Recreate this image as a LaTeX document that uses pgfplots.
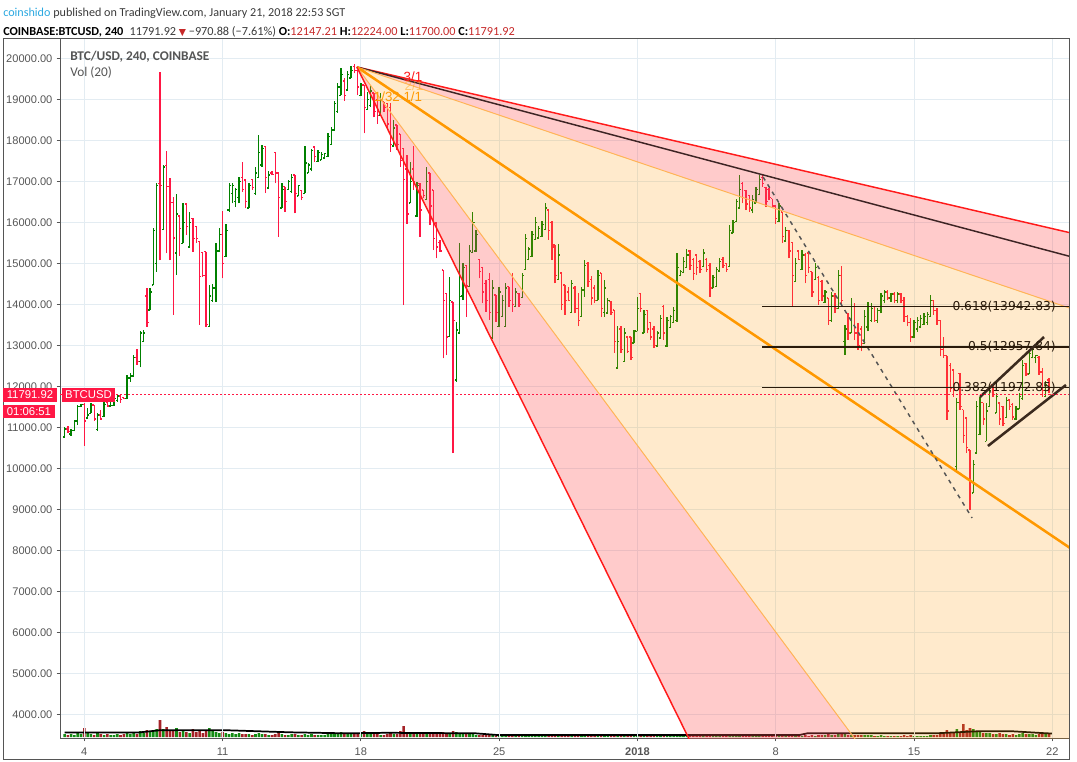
\documentclass[border=0pt]{standalone}
\usepackage{fontspec}
\setmainfont{Liberation Sans}
\newfontfamily\carlito{Carlito}
\newfontfamily\dejavu{DejaVu Sans}
\usepackage{pgfplots}
\pgfplotsset{compat=1.18}
\usepackage{pgfplotstable}

\definecolor{upc}{RGB}{0,128,0}
\definecolor{dnc}{RGB}{255,23,68}
\definecolor{volg}{RGB}{20,140,20}
\definecolor{volr}{RGB}{165,35,40}
\definecolor{gridc}{HTML}{E3ECF2}
\definecolor{axc}{HTML}{555555}
\definecolor{fanred}{HTML}{FF1A1A}
\definecolor{fanor}{HTML}{FF9800}
\definecolor{fanorl}{HTML}{FFB457}
\definecolor{pinkf}{HTML}{FF5252}
\definecolor{fibc}{HTML}{2A1A0A}
\definecolor{chanc}{HTML}{3B2A1E}
\definecolor{trendc}{HTML}{3D2424}
\definecolor{hdrblue}{HTML}{2BA8E0}
\definecolor{valred}{HTML}{C62828}
\definecolor{hdrtext}{HTML}{3A3A3A}

% 4h bars: t = bar number, o h l c, v = volume (pixels)
\pgfplotstableread{
t o h l c v
0 10760 11000 10750 10960 3
1 10960 11030 10870 10900 2
2 10840 10950 10800 10920 3
3 10920 11180 10900 11150 2
4 11150 11550 11060 11500 4
5 11500 11580 11490 11560 3
6 11560 11590 10550 11150 9
7 11230 11460 11220 11300 5
8 11340 11585 11340 11540 3
9 11540 11545 11160 11200 2
10 10950 11340 10920 11300 4
11 11300 11420 11180 11200 3
12 11260 11625 11260 11550 2
13 11600 11640 11500 11520 3
14 11520 11670 11500 11530 2
15 11530 11760 11520 11700 2
16 11650 11790 11620 11760 3
17 11760 11790 11600 11680 2
18 11720 11750 11680 11700 3
19 11700 12280 11680 12200 4
20 12200 12320 12110 12250 3
21 12250 12760 12240 12700 5
22 12700 12900 12520 12600 3
23 12600 13350 12460 13300 6
24 13100 13370 13090 13300 4
25 14200 14390 13450 13550 7
26 13860 14390 13860 14300 5
27 14470 15850 14470 15800 6
28 15000 16970 14800 16900 8
29 16950 19660 15070 16900 17
30 15830 17400 15810 17350 8
31 17380 17740 15245 16880 10
32 16880 17070 15080 16480 7
33 16480 16620 13740 15620 6
34 15250 16690 14715 16200 9
35 16150 16180 15180 15850 5
36 15490 16480 15490 16000 6
37 16450 16460 15690 15900 5
38 15400 16260 15390 16000 4
39 16100 16100 15280 15600 8
40 15900 15920 15490 15600 5
41 15530 15530 13500 14680 6
42 15270 15270 14660 14700 4
43 15280 15280 13450 13500 7
44 13460 14470 13450 14200 9
45 14100 14490 14065 14400 7
46 14400 15500 14065 15300 5
47 15300 15850 15280 15700 4
48 15700 16280 14630 15000 5
49 15160 15950 15160 15800 4
50 16300 16950 16260 16900 3
51 16700 16950 16460 16900 4
52 16500 16830 16380 16800 3
53 16600 17110 16460 17000 4
54 17100 17480 16750 16800 3
55 17030 17030 16340 16500 3
56 16350 16950 16340 16900 3
57 17050 17050 16790 16850 2
58 16700 17360 16670 17200 3
59 17100 18130 17070 17700 4
60 17400 17890 17360 17800 3
61 17850 17860 16710 17100 3
62 16840 17240 16830 17150 2
63 17200 17240 17150 17160 2
64 17700 17720 16950 17200 3
65 17200 17210 15650 16600 4
66 16350 16950 16340 16800 3
67 16870 16870 16260 16500 2
68 16800 17030 16790 17000 2
69 16750 17180 16710 17100 3
70 17150 17150 16220 16700 3
71 16640 16910 16630 16900 2
72 16780 16790 16540 16600 2
73 16710 17860 16710 17450 3
74 17200 17440 17200 17400 2
75 17300 17800 17240 17750 3
76 17840 17840 17480 17600 2
77 17480 17760 17480 17700 2
78 17520 17720 17520 17650 2
79 17570 17700 17560 17680 2
80 17600 18170 17600 18100 3
81 17900 18320 17890 18250 3
82 18250 18970 18250 18900 4
83 18700 19400 18670 19300 4
84 19100 19760 19100 19600 5
85 19450 19510 18970 19100 4
86 19230 19700 19230 19600 3
87 19520 19810 19510 19700 3
88 19800 19860 19630 19700 3
89 19700 19700 19100 19300 4
90 19100 19390 19080 19350 3
91 19350 19350 18170 18800 6
92 18750 19190 18740 19000 4
93 18850 19350 18820 19200 3
94 19150 19150 18560 18700 3
95 18980 18980 18400 18600 3
96 18620 19150 18620 19000 2
97 18940 18940 18700 18800 2
98 18900 18900 18290 18400 3
99 18800 18900 17720 17900 4
100 17860 18500 17850 18300 3
101 18370 18370 17760 17900 3
102 18150 18150 17360 17500 6
103 17800 17800 13980 17050 11
104 17300 17640 15970 16200 5
105 16470 17480 16460 17000 4
106 17300 17850 16800 17000 3
107 16150 16990 16140 16900 3
108 16950 16950 15650 16300 4
109 16790 16790 16600 16650 3
110 16550 17360 16540 17000 3
111 17200 17200 15940 16400 3
112 16790 16790 15320 15600 4
113 15980 15980 15120 15400 3
114 15500 15570 15280 15300 3
115 14840 14840 12680 14100 5
116 14270 14270 12760 13200 4
117 13220 14670 13210 14100 3
118 14060 14065 10370 13600 6
119 12150 13580 12110 13370 5
120 13300 15490 13290 14190 4
121 14200 15000 14100 14900 3
122 14950 14960 13700 14450 3
123 14440 15450 14430 15300 3
124 15260 16240 15250 16000 3
125 15300 15810 15280 15700 2
126 15100 15100 14630 14800 2
127 14900 14920 14020 14300 2
128 14500 14600 13820 14100 2
129 14600 14760 13620 13800 2
130 13180 14600 13170 14400 2
131 14230 14230 13580 13800 1
132 13460 14430 13450 14300 1
133 13710 14230 13700 14100 1
134 13460 14510 13450 14400 1
135 14430 14430 13940 14100 1
136 14700 14760 13820 14000 1
137 13950 14390 13940 14300 1
138 14270 14270 13940 14000 1
139 14160 14760 14150 14700 1
140 14850 15710 14840 15600 2
141 15100 15400 15080 15350 1
142 15170 15790 15160 15700 1
143 15580 16140 15570 16000 2
144 15620 15900 15610 15850 1
145 15660 16020 15650 15950 1
146 15820 16460 15810 16350 2
147 16300 16300 15570 15800 1
148 16000 16020 15080 15400 2
149 15450 15450 14510 14700 2
150 14600 15470 14590 15200 1
151 14760 14760 13860 14000 2
152 14470 14470 13740 14100 1
153 14300 14430 14070 14100 1
154 13800 14600 13790 14500 1
155 14400 14450 13780 13900 1
156 13900 14270 13460 13600 1
157 13700 14430 13700 14350 1
158 14350 15080 14190 14950 1
159 15000 15040 14430 14550 1
160 14600 14680 13985 14150 1
161 14400 14470 14030 14100 1
162 14100 14840 14100 14700 1
163 14760 14760 13700 13900 1
164 13800 14590 13700 14400 1
165 13790 14150 13780 14100 1
166 14070 14070 13740 13800 1
167 13860 13860 12810 13100 2
168 12450 13460 12440 13100 2
169 13400 13460 12810 12900 1
170 12610 13420 12600 13300 1
171 13200 13210 12810 12850 1
172 13200 13210 12640 12700 1
173 13060 13380 13050 13350 1
174 13340 14190 13340 13900 2
175 14270 14270 13820 13900 1
176 13300 13860 13290 13750 1
177 13850 13860 13290 13400 1
178 13550 13580 13130 13200 1
179 13400 13460 12930 13000 1
180 12980 13340 12970 13300 1
181 13180 13740 13170 13650 1
182 13950 13990 13130 13300 1
183 12980 13700 12970 13600 1
184 13430 13740 13420 13700 1
185 13550 13940 13540 13850 1
186 13600 15240 13580 14900 2
187 14700 14840 14680 14800 1
188 14770 15160 14760 15050 1
189 14890 15360 14880 15200 1
190 15300 15320 14840 14950 1
191 15100 15120 14590 14750 1
192 15200 15200 14720 14900 1
193 15050 15080 14760 14850 1
194 14930 15360 14920 15250 1
195 15100 15120 14800 14850 1
196 14950 15000 14190 14400 1
197 14400 14720 14390 14650 1
198 14440 14920 14430 14850 1
199 14810 15120 14800 15050 1
200 15100 15160 14880 14950 1
201 15000 15000 14800 14850 1
202 14930 15930 14920 15800 2
203 15740 16050 15730 16000 1
204 16020 16580 16010 16500 2
205 16350 17150 16340 16800 2
206 16950 16990 16460 16600 1
207 16780 16790 16300 16450 1
208 16650 16660 16260 16350 1
209 16300 16660 16220 16550 1
210 16470 16870 16460 16800 1
211 16670 17150 16660 17050 1
212 17100 17150 16870 16950 1
213 16850 16870 16380 16500 1
214 16800 16830 16540 16600 1
215 16580 16580 16340 16400 1
216 16400 16420 15970 16100 1
217 16020 16460 16010 16400 1
218 16250 16260 15490 15650 2
219 15540 15890 15530 15800 1
220 15800 15810 15120 15300 2
221 15500 15530 13940 14700 3
222 14560 15120 14550 15000 2
223 15300 15320 15080 15100 1
224 14850 15320 14840 15200 1
225 15200 15240 14510 14700 2
226 15250 15280 14760 14900 1
227 14800 14800 14190 14300 2
228 14600 15000 14590 14900 1
229 14650 14680 13990 14100 2
230 14550 14590 14070 14200 2
231 14040 14350 14030 14300 2
232 14150 14150 13500 13600 3
233 13600 14310 13580 14200 2
234 14200 14270 13780 13900 2
235 13900 14840 13880 14700 3
236 14700 14930 13940 14100 3
237 13100 13500 12770 13400 3
238 13780 13780 13130 13300 2
239 13300 14150 13290 13950 2
240 13950 14030 13130 13300 2
241 13300 13540 12890 13000 2
242 13400 13460 12850 13050 2
243 13050 13860 13040 13700 2
244 13450 14060 13340 13950 2
245 13600 14020 13580 13900 2
246 13940 13940 13580 13600 1
247 13600 13900 13540 13850 1
248 13850 14270 13780 14200 2
249 14100 14350 14020 14300 1
250 14300 14350 14100 14150 1
251 14150 14270 14060 14250 1
252 14250 14310 14020 14100 1
253 14100 14310 14020 14250 1
254 14250 14270 14020 14100 1
255 14100 14190 13580 13700 2
256 13700 13740 13460 13550 1
257 13550 13660 13090 13200 2
258 13200 13620 13170 13550 1
259 13400 13700 13330 13600 1
260 13450 13740 13420 13650 1
261 13500 13780 13500 13700 1
262 13550 13820 13500 13750 1
263 13700 14230 13700 14100 2
264 14100 14110 13740 13850 2
265 13850 13900 13500 13600 2
266 13600 13620 12730 12900 4
267 12900 13210 12690 12750 3
268 12750 12750 11180 11400 7
269 12500 12560 11870 11950 4
270 12400 12400 11750 11900 4
271 10050 11710 9970 11600 8
272 12320 12320 11430 11500 5
273 11430 11430 10620 10800 13
274 11230 11230 10370 10500 7
275 10450 10450 8990 9700 9
276 9400 10210 9400 10100 8
277 10370 11630 10370 11500 6
278 10820 11750 10820 11600 5
279 11600 11600 11060 11200 4
280 10660 11590 10660 11400 4
281 11500 12000 11500 11900 4
282 12030 12040 11750 11800 3
283 11350 11830 11350 11750 3
284 11590 11590 11060 11200 4
285 11500 11510 11020 11100 3
286 11240 11750 11220 11650 3
287 11670 11670 11430 11500 2
288 11550 11590 11180 11250 3
289 11200 11510 11180 11450 2
290 11450 11830 11440 11750 3
291 11700 12650 11670 12500 4
292 12560 12560 12240 12300 3
293 12300 12890 12290 12800 3
294 12700 12930 12680 12900 3
295 12700 12770 12560 12750 2
296 12700 12730 12280 12350 3
297 12350 12440 11750 11900 4
298 11750 12120 11750 12050 3
299 12150 12200 11830 11792 3
}\bars

\pgfplotsset{
  upbar/.style={upc, line width=1pt,
    restrict expr to domain={\thisrow{c}-\thisrow{o}}{0:100000}},
  dnbar/.style={dnc, line width=1pt,
    restrict expr to domain={\thisrow{c}-\thisrow{o}}{-100000:-0.01}},
  chartbox/.style={at={(45pt,-553.5pt)}, anchor=south west, scale only axis,
    width=756.75pt, height=524.25pt, xmin=1.77, xmax=52.845},
}

\begin{document}
\begin{tikzpicture}
\path[use as bounding box] (0,0) rectangle (807.75pt,-571.5pt);

% volume pane
\begin{axis}[chartbox, ymin=-1, ymax=698, hide axis]
\addplot[ybar, bar width=0.13, fill=volg, draw=none,
  restrict expr to domain={\thisrow{c}-\thisrow{o}}{0:100000}]
  table[x expr=2+\thisrow{t}/6, y=v]{\bars};
\addplot[ybar, bar width=0.13, fill=volr, draw=none,
  restrict expr to domain={\thisrow{c}-\thisrow{o}}{-100000:-0.01}]
  table[x expr=2+\thisrow{t}/6, y=v]{\bars};
\addplot[black, line width=1.3pt] coordinates {
  (2.0,4.4) (5.7,4.4) (6.8,6.7) (10.3,6.7) (13.4,4.7) (16.2,3.7) (18.3,4.2)
  (22.8,3.7) (23.9,2) (39.2,2) (39.6,3.7) (46.1,3.7) (48.2,5.7) (50.0,5.7)
  (51.7,3.7) (52.0,3.5)};
\end{axis}

% price pane
\begin{axis}[chartbox, ymin=3422, ymax=20471,
  axis line style={draw=axc, line width=0.75pt},
  tick pos=left, tick align=outside, major tick length=2.5pt,
  tick style={draw=axc, line width=0.75pt},
  xtick={3,10,17,24,31,38,45,52},
  xticklabels={4,11,18,25,\textbf{2018},8,15,22},
  ytick={4000,5000,...,20000},
  scaled y ticks=false,
  yticklabel={\pgfmathprintnumber[fixed,fixed zerofill,precision=2,1000 sep={},assume math mode=true]{\tick}},
  grid=major, major grid style={draw=gridc, line width=0.75pt},
  x tick label style={font=\fontsize{8.3}{10}\selectfont, text=axc, anchor=north, inner sep=0pt, yshift=-5pt},
  y tick label style={font=\fontsize{8.3}{10}\selectfont, text=axc, anchor=east, inner sep=0pt, xshift=-3pt},
]
% OHLC bars
\addplot[upbar, quiver={u=0, v=\thisrow{h}-\thisrow{l}}] table[x expr=2+\thisrow{t}/6, y=l]{\bars};
\addplot[upbar, quiver={u=-0.085, v=0}] table[x expr=2+\thisrow{t}/6, y=o]{\bars};
\addplot[upbar, quiver={u=0.085, v=0}] table[x expr=2+\thisrow{t}/6, y=c]{\bars};
\addplot[dnbar, quiver={u=0, v=\thisrow{h}-\thisrow{l}}] table[x expr=2+\thisrow{t}/6, y=l]{\bars};
\addplot[dnbar, quiver={u=-0.085, v=0}] table[x expr=2+\thisrow{t}/6, y=o]{\bars};
\addplot[dnbar, quiver={u=0.085, v=0}] table[x expr=2+\thisrow{t}/6, y=c]{\bars};

% Gann fan fills
\addplot[draw=none, fill=pinkf, fill opacity=0.3] coordinates {(16.8,19788) (60,14950) (60,12746)};
\addplot[draw=none, fill=fanor, fill opacity=0.2] coordinates {(16.8,19788) (60,12746) (60,0) (47.24,0)};
\addplot[draw=none, fill=pinkf, fill opacity=0.3] coordinates {(16.8,19788) (47.24,0) (37.10,0)};
% fan lines
\addplot[fanred, line width=1.1pt] coordinates {(16.8,19788) (60,14950)};
\addplot[trendc, line width=1.1pt] coordinates {(16.8,19788) (60,14258)};
\addplot[fanorl, line width=0.75pt] coordinates {(16.8,19788) (60,12746)};
\addplot[fanor, line width=1.9pt] coordinates {(16.8,19788) (60,5748)};
\addplot[fanorl, line width=0.75pt] coordinates {(16.8,19788) (47.24,0)};
\addplot[fanred, line width=1.1pt] coordinates {(16.8,19788) (37.10,0)};

% trend from the Jan 7 top
\addplot[axc, line width=1.1pt, dash pattern=on 3pt off 3.5pt] coordinates {(37.36,17105) (47.94,8788)};
% fib levels
\addplot[fibc, line width=1.1pt] coordinates {(37.31,13942.83) (53,13942.83)};
\addplot[fibc, line width=1.1pt] coordinates {(37.31,12957.84) (53,12957.84)};
\addplot[fibc, line width=1.1pt] coordinates {(37.31,11972.85) (53,11972.85)};
% channel
\addplot[chanc, line width=1.9pt] coordinates {(48.34,11739) (51.58,13202)};
\addplot[chanc, line width=1.9pt] coordinates {(48.74,10544) (52.69,12032)};
% last price
\addplot[dnc, line width=0.75pt, dash pattern=on 1.5pt off 1.5pt] coordinates {(1.77,11791.92) (53,11791.92)};
\end{axis}

\begin{scope}[x=0.75pt, y=-0.75pt]
\draw[axc, line width=0.75pt] (3,39) rectangle (1069,759);
% header
\node[anchor=west, inner sep=0pt, text=hdrtext] at (3,13)
  {\carlito\fontsize{9.1}{11}\selectfont\textcolor{hdrblue}{coinshido} published on TradingView.com, January 21, 2018 22:53 SGT};
\node[anchor=west, inner sep=0pt, text=hdrtext] at (3,32)
  {\carlito\fontsize{9.2}{11}\selectfont\textbf{\color{black}COINBASE:BTCUSD, 240}\enspace 11791.92 {\dejavu\fontsize{7}{8}\selectfont\color{valred}▼} −970.88 (−7.61\%)
   \textbf{\color{black}O:}\textcolor{valred}{12147.21} \textbf{\color{black}H:}\textcolor{valred}{12224.00}
   \textbf{\color{black}L:}\textcolor{valred}{11700.00} \textbf{\color{black}C:}\textcolor{valred}{11791.92}};
% legend inside the chart
\node[anchor=west, inner sep=0pt, text=axc] at (70,57) {\carlito\bfseries\fontsize{10}{12}\selectfont BTC/USD, 240, COINBASE};
\node[anchor=west, inner sep=0pt, text=axc] at (70,73) {\carlito\fontsize{10}{12}\selectfont Vol (20)};
% fan labels
\node[text=fanred, inner sep=0pt] at (413,77) {\fontsize{10}{12}\selectfont 3/1};
\node[text=fanor, inner sep=0pt, opacity=0.45] at (414,86) {\fontsize{10}{12}\selectfont 2/1};
\node[text=fanor, inner sep=0pt] at (398,97) {\fontsize{10}{12}\selectfont 1/32 1/1};
% fib labels
\node[anchor=east, inner sep=0pt, text=fibc] at (1056,307) {\dejavu\fontsize{9.2}{11}\selectfont 0.618(13942.83)};
\node[anchor=east, inner sep=0pt, text=fibc] at (1056,347) {\dejavu\fontsize{9.2}{11}\selectfont 0.5(12957.84)};
\node[anchor=east, inner sep=0pt, text=fibc] at (1056,387.4) {\dejavu\fontsize{9.2}{11}\selectfont 0.382(11972.85)};
% price tags
\fill[dnc] (3,388) rectangle (57,402);
\node[text=white, inner sep=0pt] at (30,395) {\fontsize{8.5}{10}\selectfont 11791.92};
\fill[dnc] (62,388) rectangle (115,402);
\node[text=white, inner sep=0pt] at (88.5,395) {\fontsize{8.5}{10}\selectfont BTCUSD};
\fill[dnc] (3,405) rectangle (55,418);
\node[text=white, inner sep=0pt] at (29,411.5) {\fontsize{8.5}{10}\selectfont 01:06:51};
\end{scope}
\end{tikzpicture}
\end{document}
